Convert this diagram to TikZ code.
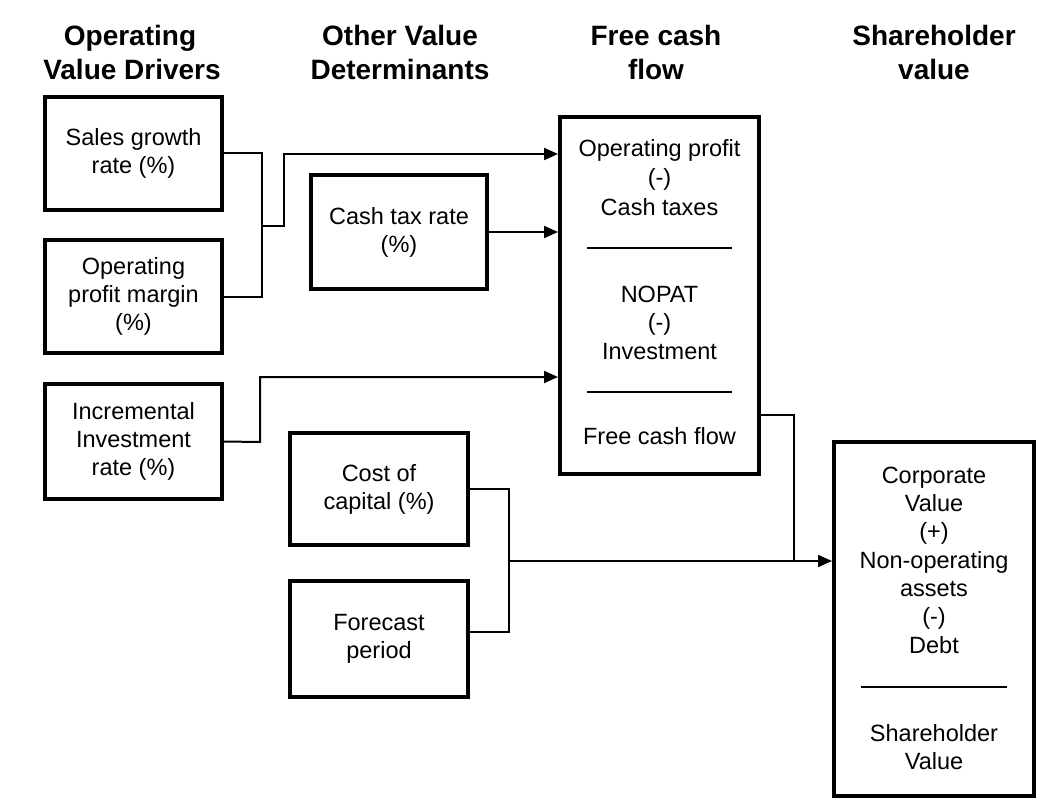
\documentclass[tikz,border=0pt]{standalone}
\usepackage{fontspec}
\setmainfont{Liberation Sans}
\usetikzlibrary{arrows.meta}
\tikzset{
  every picture/.style={x=1pt,y=-1pt},
  box/.style={draw,line width=4pt,inner sep=0pt,align=center,
    font=\fontsize{23.5}{28}\selectfont},
  ttl/.style={anchor=base,inner sep=0pt,font=\fontsize{28}{34}\selectfont\bfseries},
  txt/.style={anchor=base,inner sep=0pt,font=\fontsize{23.5}{28}\selectfont},
  conn/.style={line width=2pt},
  arr/.style={conn,-{Triangle[length=14pt,width=12pt]}},
  divider/.style={line width=1.5pt}
}
\begin{document}
\begin{tikzpicture}
\useasboundingbox[fill=white] (0,0) rectangle (1056,810);
% titles
\node[ttl] (t1a) at (130,46) {Operating};
\node[ttl] (t1b) at (132,80) {Value Drivers};
\node[ttl] (t2a) at (400,46) {Other Value};
\node[ttl] (t2b) at (400,80) {Determinants};
\node[ttl] (t3a) at (656,46) {Free cash};
\node[ttl] (t3b) at (656,80) {flow};
\node[ttl] (t4a) at (934,46) {Shareholder};
\node[ttl] (t4b) at (934,80) {value};
% left boxes
\node[box,minimum width=177pt,minimum height=113pt] (sales) at (133.5,153.5) {Sales growth\\rate (\%)};
\node[box,minimum width=177pt,minimum height=113pt] (margin) at (133.5,296.5) {Operating\\profit margin\\(\%)};
\node[box,minimum width=177pt,minimum height=115pt] (incr) at (133.5,441.5) {Incremental\\Investment\\rate (\%)};
% middle boxes
\node[box,minimum width=176pt,minimum height=114pt] (tax) at (399,232) {Cash tax rate\\(\%)};
\node[box,minimum width=178pt,minimum height=112pt] (cost) at (379,489) {Cost of\\capital (\%)};
\node[box,minimum width=178pt,minimum height=116pt] (fore) at (379,639) {Forecast\\period};
% FCF box
\node[box,minimum width=199pt,minimum height=357pt] (fcf) at (659.5,295.5) {};
\node[txt] (f1) at (659.5,157) {Operating profit};
\node[txt] (f2) at (659.5,186) {(-)};
\node[txt] (f3) at (659.5,215) {Cash taxes};
\node[txt] (f4) at (659.5,302) {NOPAT};
\node[txt] (f5) at (659.5,330.5) {(-)};
\node[txt] (f6) at (659.5,359) {Investment};
\node[txt] (f7) at (659.5,444) {Free cash flow};
\coordinate (fd1a) at (587,248); \coordinate (fd1b) at (732,248);
\coordinate (fd2a) at (587,392); \coordinate (fd2b) at (732,392);
\draw[divider] (fd1a) -- (fd1b);
\draw[divider] (fd2a) -- (fd2b);
% Shareholder box
\node[box,minimum width=200pt,minimum height=354pt] (sh) at (934,619) {};
\node[txt] (s1) at (934,483) {Corporate};
\node[txt] (s2) at (934,511) {Value};
\node[txt] (s3) at (934,539.5) {(+)};
\node[txt] (s4) at (934,568) {Non-operating};
\node[txt] (s5) at (934,596) {assets};
\node[txt] (s6) at (934,624.5) {(-)};
\node[txt] (s7) at (934,653) {Debt};
\node[txt] (s8) at (934,741) {Shareholder};
\node[txt] (s9) at (934,769) {Value};
\coordinate (sda) at (861,687); \coordinate (sdb) at (1007,687);
\draw[divider] (sda) -- (sdb);
% connectors
\coordinate (jx1) at (262,226);
\coordinate (jx2) at (284,226);
\draw[conn] (sales.east) -| (jx1) |- (margin.east);
\draw[arr] (jx1) -- (jx2) |- ([yshift=141.5pt]fcf.west);
\draw[arr] (tax.east) -- (tax.east -| fcf.west);
\coordinate (ix) at (260,442);
\draw[arr] (incr.east) -- (ix) |- ([yshift=-81.5pt]fcf.west);
\coordinate (cx) at (509,561);
\draw[conn] (cost.east) -| (cx) |- ([yshift=7pt]fore.east);
\draw[arr] (cx) -- (cx -| sh.west);
\coordinate (fx) at (794,560);
\draw[conn] ([yshift=-119.5pt]fcf.east) -| (fx);
\end{tikzpicture}
\end{document}
